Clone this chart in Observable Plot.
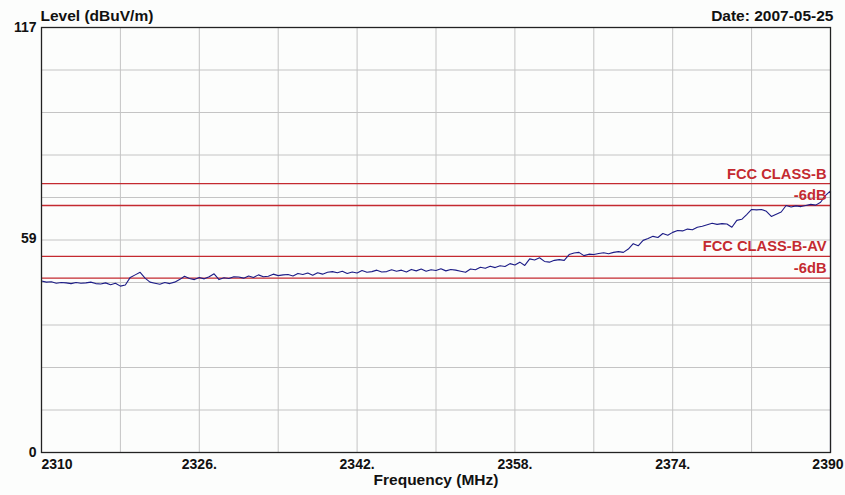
<!DOCTYPE html>
<html>
<head>
<meta charset="utf-8">
<script src="https://cdn.jsdelivr.net/npm/d3@7"></script>
<script src="https://cdn.jsdelivr.net/npm/@observablehq/plot@0.6"></script>
<style>
  html, body { margin: 0; padding: 0; background: #fcfdfc; }
  svg { font-family: "Liberation Sans", Arial, sans-serif; font-weight: bold; }
</style>
</head>
<body>
<div id="chart"></div>
<script>
// ---- data ----
const sweepStart = 2310;      // MHz
const sweepStep = 0.5;        // MHz between samples
const levels = [
  47.2, 46.9, 47.0, 46.6, 46.8, 46.7, 46.5, 46.8, 46.6, 46.7,
  46.9, 46.5, 46.4, 46.7, 46.2, 46.6, 45.8, 46.1, 48.2, 48.9,
  49.6, 48.0, 46.9, 46.6, 46.3, 46.8, 46.5, 46.9, 47.6, 48.5,
  47.9, 47.6, 48.2, 47.8, 48.4, 49.2, 47.6, 48.1, 47.9, 48.4,
  48.3, 48.0, 48.6, 48.2, 48.9, 48.4, 48.5, 49.1, 48.7, 48.9,
  49.0, 48.6, 49.3, 49.0, 49.4, 48.8, 49.5, 49.1, 49.6, 49.8,
  49.5, 49.9, 49.3, 49.7, 49.4, 50.1, 49.6, 49.8, 50.2, 49.7,
  49.8, 50.3, 49.9, 50.2, 49.7, 50.4, 50.0, 50.5, 49.9, 50.3,
  50.1, 50.6, 50.0, 50.4, 50.2, 49.9, 49.6, 50.5, 50.3, 51.0,
  50.7, 51.3, 50.9, 51.4, 51.2, 52.0, 51.6, 52.4, 51.5, 53.3,
  53.0, 53.6, 52.6, 52.4, 52.9, 53.1, 52.9, 54.5, 54.9, 55.1,
  54.2, 54.6, 54.5, 54.8, 55.0, 54.7, 55.1, 55.3, 55.1, 56.0,
  57.5, 56.9, 58.4, 58.9, 59.5, 59.2, 60.3, 59.8, 60.6, 61.1,
  61.0, 61.5, 61.3, 62.0, 62.3, 62.7, 63.1, 62.8, 63.0, 62.9,
  62.0, 63.9, 64.2, 65.5, 66.9, 66.8, 66.9, 66.4, 65.0, 65.6,
  66.2, 68.0, 67.6, 67.9, 67.7, 68.0, 68.3, 68.1, 68.9, 70.8,
  72.0
];
const endLevel = 0; // trace drops to the floor at the end of the sweep

const limitValues = [74, 68, 54, 48];
const limitLabels = ["FCC CLASS-B", "-6dB", "FCC CLASS-B-AV", "-6dB"];

const xTickValues = [2310, 2326, 2342, 2358, 2374, 2390];
const xTickLabels = ["2310", "2326.", "2342.", "2358.", "2374.", "2390"];
const xGrid = [2318, 2326, 2334, 2342, 2350, 2358, 2366, 2374, 2382];

const yTickValues = [0, 59, 117];
const yTickLabels = ["0", "59", "117"];
const yGrid = [11.7, 23.4, 35.1, 46.8, 58.5, 70.2, 81.9, 93.6, 105.3];

const titleText = "Level (dBuV/m)";
const dateText = "Date: 2007-05-25";
const xLabelText = "Frequency (MHz)";

// ---- build table ----
const trace = levels.map((v, i) => ({f: sweepStart + i * sweepStep, v}));
trace.push({f: trace[trace.length - 1].f, v: endLevel});

const red = "#c42a30";
const fs = 14;
const fsTitle = 15.5;
const fsLimit = 14.7;

const plot = Plot.plot({
  width: 845,
  height: 495,
  marginLeft: 41,
  marginRight: 15,
  marginTop: 27,
  marginBottom: 43,
  style: {background: "transparent", fontFamily: "'Liberation Sans', Arial, sans-serif", fontWeight: "bold"},
  x: {domain: [2310, 2390], axis: null},
  y: {domain: [0, 117], axis: null},
  marks: [
    Plot.gridX(xGrid, {stroke: "#c4c4c4", strokeOpacity: 1}),
    Plot.gridY(yGrid, {stroke: "#c4c4c4", strokeOpacity: 1}),
    Plot.ruleY(limitValues, {stroke: red, strokeWidth: 1.3}),
    Plot.line(trace, {x: "f", y: "v", stroke: "#1c1c86", strokeWidth: 1.1}),
    Plot.frame({stroke: "#222", strokeWidth: 1.3}),
    Plot.text(limitLabels, {
      x: 2390, y: (d, i) => limitValues[i], text: d => d,
      textAnchor: "end", lineAnchor: "bottom", dx: -4, dy: -5,
      fill: red, fontSize: fsLimit, fontWeight: "bold"
    }),
    // x tick labels
    Plot.text(xTickLabels.slice(0, 1), {
      x: (d, i) => xTickValues[i], y: 0, text: d => d,
      textAnchor: "start", dy: 12, fontSize: fs, fill: "#111"
    }),
    Plot.text(xTickLabels.slice(1, 5), {
      x: (d, i) => xTickValues[i + 1], y: 0, text: d => d,
      textAnchor: "middle", dy: 12, fontSize: fs, fill: "#111"
    }),
    Plot.text(xTickLabels.slice(5), {
      x: (d, i) => xTickValues[i + 5], y: 0, text: d => d,
      textAnchor: "end", dx: 13, dy: 12, fontSize: fs, fill: "#111"
    }),
    // y tick labels
    Plot.text(yTickLabels, {
      x: 2310, y: (d, i) => yTickValues[i], text: d => d,
      textAnchor: "end", dx: -5, fontSize: fs, fill: "#111"
    }),
    // titles
    Plot.text([titleText], {frameAnchor: "top-left", dx: -1, dy: -18, textAnchor: "start", fontSize: fsTitle, fill: "#111"}),
    Plot.text([dateText], {frameAnchor: "top-right", dx: 3, dy: -18, textAnchor: "end", fontSize: fsTitle, fill: "#111"}),
    Plot.text([xLabelText], {frameAnchor: "bottom", dy: 32, fontSize: fsTitle, fill: "#111"})
  ]
});
document.getElementById("chart").appendChild(plot);
</script>
</body>
</html>
